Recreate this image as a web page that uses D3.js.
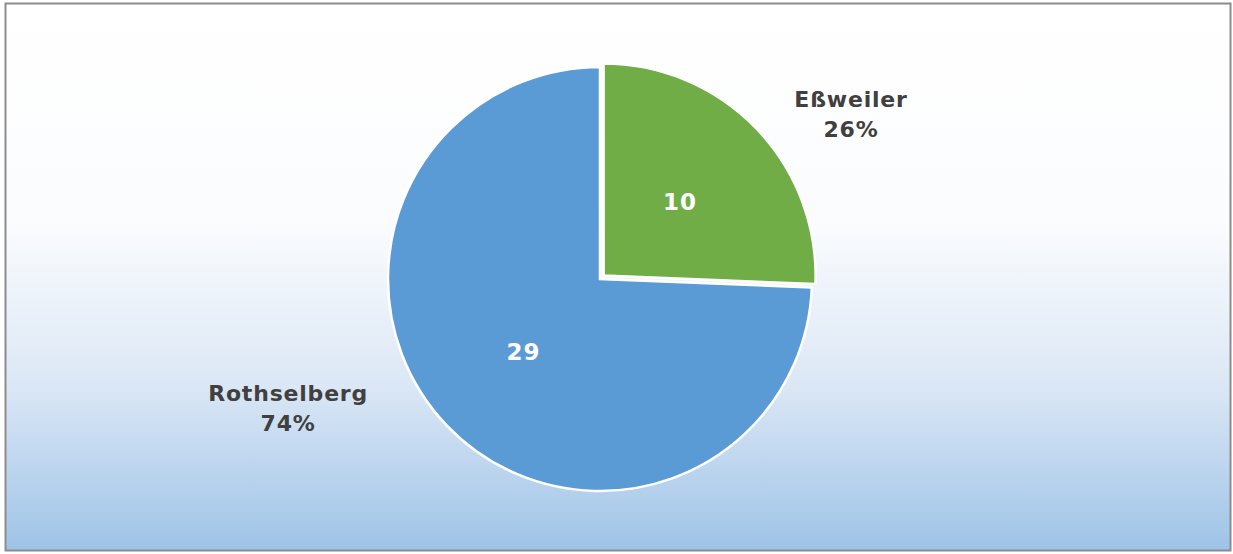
<!DOCTYPE html>
<html><head><meta charset="utf-8">
<script src="https://cdn.jsdelivr.net/npm/d3@7"></script>
<style>html,body{margin:0;padding:0;background:#fff;}svg{display:block;}</style>
</head><body>
<svg id="chart" width="1233" height="554"></svg>
<script>
const categories = ["Eßweiler", "Rothselberg"];
const values = [10, 29];
const colors = ["#70ad47", "#5b9bd5"];

const W = 1233, H = 554;
const svg = d3.select("#chart");
const defs = svg.append("defs");
const grad = defs.append("linearGradient").attr("id","bg").attr("x1",0).attr("y1",0).attr("x2",0).attr("y2",1);
grad.append("stop").attr("offset","0%").attr("stop-color","#ffffff");
grad.append("stop").attr("offset","40%").attr("stop-color","#fbfcfe");
grad.append("stop").attr("offset","70%").attr("stop-color","#dbe7f5");
grad.append("stop").attr("offset","100%").attr("stop-color","#9ec3e7");

svg.append("rect").attr("x",5.5).attr("y",3.5).attr("width",1225).attr("height",547)
  .attr("fill","url(#bg)").attr("stroke","#8c8c8c").attr("stroke-width",2);

const cx = 600, cy = 279, r = 212, explode = 5;
const total = d3.sum(values);
const pie = d3.pie().sort(null).value(d => d)(values);
const arc = d3.arc().innerRadius(0).outerRadius(r);
const font = "Verdana, 'DejaVu Sans', sans-serif";

const g = svg.append("g").attr("transform", `translate(${cx},${cy})`);
pie.forEach((p, i) => {
  const mid = (p.startAngle + p.endAngle) / 2;
  const ex = i === 0 ? explode : 0;
  const dx = Math.sin(mid) * ex, dy = -Math.cos(mid) * ex;
  const sg = g.append("g").attr("transform", `translate(${dx},${dy})`);
  sg.append("path").attr("d", arc(p)).attr("fill", colors[i])
    .attr("stroke", "#ffffff").attr("stroke-width", 2.5).attr("stroke-linejoin","miter");
  const lr = r * 0.5;
  sg.append("text").attr("x", Math.sin(mid) * lr).attr("y", -Math.cos(mid) * lr)
    .attr("text-anchor","middle").attr("dominant-baseline","central")
    .attr("font-family", font).attr("font-weight","bold").attr("font-size", 23)
    .attr("letter-spacing", 1)
    .attr("fill","#ffffff").text(values[i]);
});

// outside category labels (angle in degrees clockwise from top, radius factor)
const outLabel = [{a: 56.5, k: 1.42}, {a: 247.7, k: 1.59}];
pie.forEach((p, i) => {
  const a = outLabel[i].a * Math.PI / 180, rr = r * outLabel[i].k;
  const x = Math.sin(a) * rr, y = -Math.cos(a) * rr;
  const t = g.append("text").attr("text-anchor","middle")
    .attr("font-family", font).attr("font-weight","bold").attr("font-size", 22)
    .attr("letter-spacing", 0.8)
    .attr("fill","#404040");
  t.append("tspan").attr("x", x).attr("y", y - 6).text(categories[i]);
  t.append("tspan").attr("x", x).attr("y", y + 24)
    .text(Math.round(values[i] / total * 100) + "%");
});
</script>
</body></html>
